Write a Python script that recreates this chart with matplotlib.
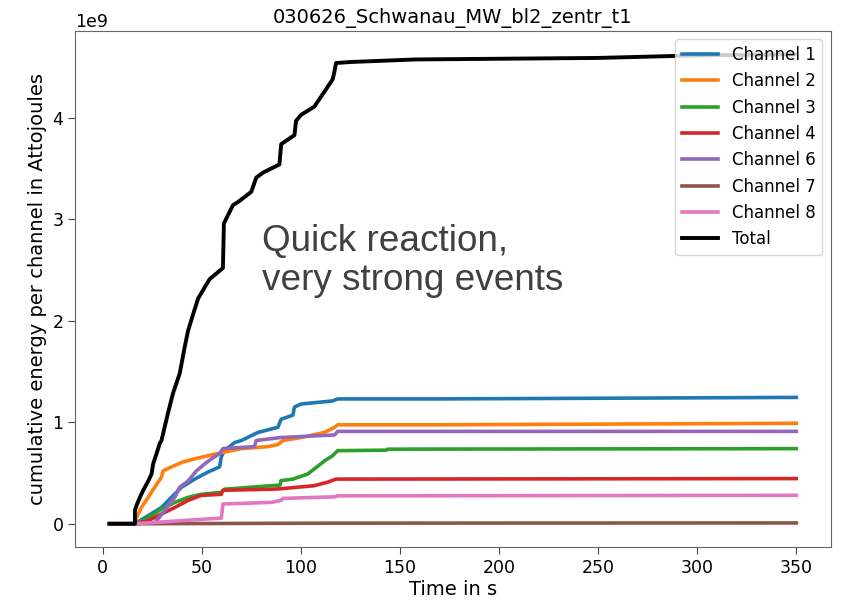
import numpy as np
from matplotlib import pyplot as plt

# values, energies in units of 1e9 attojoules
TITLE = "030626_Schwanau_MW_bl2_zentr_t1"

t_ch1 = [3.5, 16.3, 23.0, 29.7, 34.7, 39.8, 46.5, 53.2, 59.0, 59.9, 61.5, 66.6, 70, 78.4, 88.4, 90.1, 96, 96.8, 100.2, 116, 118.6, 170, 350]
e_ch1 = [0, 0, 0.08, 0.16, 0.26, 0.36, 0.44, 0.51, 0.56, 0.66, 0.72, 0.80, 0.82, 0.90, 0.95, 1.03, 1.07, 1.15, 1.18, 1.21, 1.23, 1.23, 1.245]

t_ch2 = [3.5, 16.3, 17.1, 19.6, 23, 26.3, 29.7, 30.5, 34.7, 40.6, 46.5, 53.2, 59.9, 70, 83.4, 88.4, 91, 100.2, 112, 117, 118.6, 170, 350]
e_ch2 = [0, 0, 0.06, 0.16, 0.26, 0.36, 0.46, 0.52, 0.56, 0.61, 0.64, 0.67, 0.70, 0.74, 0.76, 0.78, 0.82, 0.85, 0.90, 0.95, 0.975, 0.975, 0.99]

t_ch3 = [3.5, 16.3, 23, 29.7, 36.4, 43.1, 49.8, 59.9, 61.5, 85, 89.5, 90, 96, 103.5, 106.8, 112, 116, 118.6, 143, 144, 350]
e_ch3 = [0, 0, 0.06, 0.145, 0.21, 0.26, 0.29, 0.31, 0.34, 0.375, 0.38, 0.425, 0.44, 0.49, 0.54, 0.62, 0.67, 0.72, 0.725, 0.735, 0.74]

t_ch4 = [3.5, 16.3, 23, 29.7, 36.4, 43.1, 49.8, 59.9, 60.7, 85, 90, 106.8, 113.6, 117.8, 118.6, 350]
e_ch4 = [0, 0, 0.03, 0.096, 0.16, 0.23, 0.28, 0.29, 0.33, 0.34, 0.345, 0.375, 0.41, 0.44, 0.44, 0.445]

t_ch6 = [3.5, 16.3, 26.3, 31.4, 36.4, 38.9, 43.1, 47.3, 51.5, 54.9, 59, 60.7, 76.6, 77.5, 90, 117, 118.6, 350]
e_ch6 = [0, 0, 0.01, 0.13, 0.26, 0.36, 0.42, 0.52, 0.59, 0.64, 0.69, 0.74, 0.76, 0.82, 0.85, 0.875, 0.91, 0.91]

t_ch7 = [3.5, 16.3, 118.6, 350]
e_ch7 = [0, 0, 0.006, 0.008]

t_ch8 = [3.5, 16.3, 59.9, 60.7, 85, 90, 91, 117, 118.6, 350]
e_ch8 = [0, 0, 0.056, 0.195, 0.21, 0.23, 0.25, 0.265, 0.275, 0.28]

t_total = [3.5, 16.3, 16.3, 17.1, 18.8, 20.5, 23.0, 24.7, 25.5, 27.2, 28.8, 29.7, 33.1, 35.6, 38.9, 41.4, 43.1, 45.6, 48.2,
           51.5, 54.0, 60.7, 61.2, 65.8, 68.3, 75.0, 77.5, 80.9, 89.2, 90.1, 96.8, 97.6, 100.2, 106.8, 112.7, 116.1,
           116.9, 117.8, 125.3, 158, 250, 300, 350]
e_total = [0, 0, 0.13, 0.18, 0.26, 0.33, 0.42, 0.49, 0.59, 0.69, 0.79, 0.82, 1.10, 1.29, 1.48, 1.74, 1.90, 2.06, 2.22,
           2.33, 2.41, 2.52, 2.96, 3.14, 3.17, 3.27, 3.41, 3.46, 3.54, 3.74, 3.83, 3.97, 4.03, 4.11, 4.28, 4.38,
           4.45, 4.54, 4.55, 4.575, 4.59, 4.615, 4.625]

channels = [
    ("Channel 1", t_ch1, e_ch1),
    ("Channel 2", t_ch2, e_ch2),
    ("Channel 3", t_ch3, e_ch3),
    ("Channel 4", t_ch4, e_ch4),
    ("Channel 6", t_ch6, e_ch6),
    ("Channel 7", t_ch7, e_ch7),
    ("Channel 8", t_ch8, e_ch8),
]

fig = plt.figure(figsize=(8.45, 6.06), dpi=100)
ax = fig.add_axes([0.089, 0.097, 0.894, 0.852])

for name, t, e in channels:
    ax.plot(t, np.array(e) * 1e9, '-', lw=2.6, label=name)
ax.plot(t_total, np.array(e_total) * 1e9, '-', color='k', lw=2.8, label="Total")

ax.set_title(TITLE, fontsize=14)
ax.set_xlabel("Time in s", fontsize=14, labelpad=2)
ax.set_ylabel("cumulative energy per channel in Attojoules", fontsize=14)
ax.tick_params(labelsize=12.5, length=5, color='#444444')
ax.yaxis.get_offset_text().set_fontsize(12.5)
for s in ax.spines.values():
    s.set_color('#666666')

ax.text(80.5, 2.95e9, "Quick reaction,\nvery strong events", fontsize=26.6, color='#404040',
        family='Liberation Sans', va='top', linespacing=1.13)

ax.legend(loc='upper right', fontsize=12, handlelength=2.2)

fig.savefig("out.png")
